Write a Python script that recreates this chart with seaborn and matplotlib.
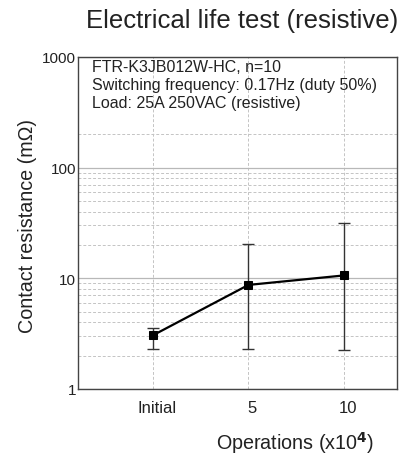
import matplotlib
matplotlib.use("Agg")
import matplotlib.pyplot as plt
import matplotlib.transforms as mtransforms
import seaborn as sns
import numpy as np
import pandas as pd

# Data
categories = ["Initial", "5", "10"]
mean_res = [3.05, 8.7, 10.6]
max_res = [3.55, 20.5, 31.5]
min_res = [2.27, 2.3, 2.23]
major_y = [1, 10, 100, 1000]
minor_y = [2, 3, 4, 5, 6, 7, 8, 9, 20, 30, 40, 50, 60, 70, 80, 90, 200]
info_lines = ["FTR-K3JB012W-HC, n=10",
              "Switching frequency: 0.17Hz (duty 50%)",
              "Load: 25A 250VAC (resistive)"]

sns.set_style("white")
plt.rcParams['font.family'] = ['Liberation Sans', 'DejaVu Sans']

fig = plt.figure(figsize=(4.17, 4.56), dpi=100)
ax = fig.add_axes([0.187, 0.145, 0.765, 0.728])

pos = np.arange(len(categories))
df = pd.DataFrame({"pos": pos, "res": mean_res})

yerr = np.array([np.array(mean_res) - np.array(min_res),
                 np.array(max_res) - np.array(mean_res)])
ax.errorbar(pos, mean_res, yerr=yerr, fmt="none", ecolor="#333333",
            elinewidth=1.0, capsize=4, capthick=1.0, zorder=3)
sns.lineplot(data=df, x="pos", y="res", ax=ax, color="black", lw=1.6,
             marker="s", markersize=5.5, markeredgecolor="black", zorder=4)

ax.set_yscale("log")
ax.set_ylim(1, 1000)
ax.set_xlim(-0.785, 2.555)
ax.set_yticks(major_y)
ax.set_yticklabels([str(v) for v in major_y])
ax.set_yticks(minor_y, minor=True)
ax.tick_params(axis="y", which="minor", length=0, labelleft=False)
ax.tick_params(axis="y", which="major", length=0, labelsize=11,
               colors="#222222", pad=1.5)
ax.set_xticks(pos)
ax.set_xticklabels(categories)
ax.tick_params(axis="x", which="major", length=0, labelsize=12,
               colors="#222222", pad=8)
offset = mtransforms.ScaledTranslation(4 / 100, 0, fig.dpi_scale_trans)
for lbl in ax.get_xticklabels():
    lbl.set_transform(lbl.get_transform() + offset)

ax.grid(True, which="major", axis="y", color="#b8b8b8", lw=0.9, ls="-")
ax.grid(True, which="minor", axis="y", color="#c4c4c4", lw=0.7, ls=(0, (3, 2)))
ax.grid(True, which="major", axis="x", color="#c4c4c4", lw=0.7, ls=(0, (3, 2)))
ax.set_axisbelow(True)

for s in ax.spines.values():
    s.set_color("#444444")
    s.set_linewidth(1.0)

ax.set_xlabel("Operations (x10$^{\\mathbf{4}}$)", fontsize=14.2, color="#222222")
ax.xaxis.set_label_coords(0.68, -0.122)
ax.set_ylabel("Contact resistance (m\u03a9)", fontsize=14.2, color="#222222")
ax.yaxis.set_label_coords(-0.128, 0.494)

fig.text(0.581, 0.939, "Electrical life test (resistive)", ha="center",
         va="baseline", fontsize=18.5, color="#222222")
for i, t in enumerate(info_lines):
    ax.text(0.044, 0.958 - i * 0.054, t, transform=ax.transAxes,
            ha="left", va="baseline", fontsize=11.5, color="#222222")

fig.savefig("out.png", dpi=100)
